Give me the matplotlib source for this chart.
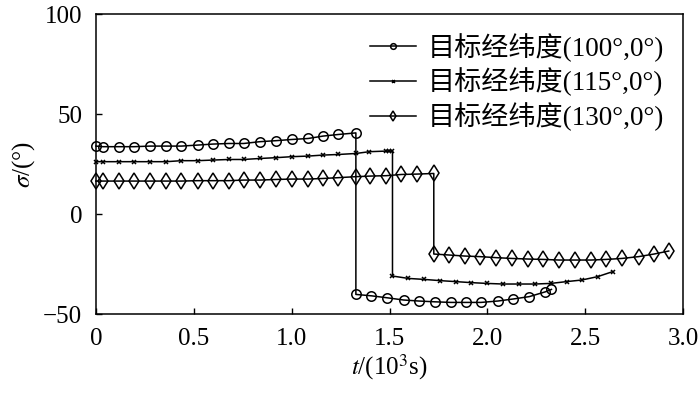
# plot sigma vs time for three target lon/lat
import matplotlib
matplotlib.use('Agg')
import matplotlib.pyplot as plt
import numpy as np

plt.rcParams['font.family'] = ['Liberation Serif', 'Noto Sans CJK SC']
plt.rcParams['mathtext.fontset'] = 'stix'

labels = ['目标经纬度(100°,0°)', '目标经纬度(115°,0°)', '目标经纬度(130°,0°)']

# shared time grid before the jump (10^3 s)
t_pre = [0, 0.036, 0.118, 0.195, 0.277, 0.36, 0.437, 0.519, 0.596, 0.678,
         0.755, 0.837, 0.919, 1.0, 1.084, 1.16, 1.238, 1.328]

# 100 deg
t_100 = t_pre + [1.328, 1.407, 1.489, 1.572, 1.649, 1.731, 1.813, 1.89, 1.967,
                 2.054, 2.131, 2.214, 2.296, 2.327]
s_100 = [34, 33.7, 33.7, 33.7, 34, 34, 34, 34.5, 35, 35.3, 35.3, 36.2, 36.7,
         37.3, 37.8, 39, 39.8, 40.6,
         -40.2, -40.9, -41.9, -43, -43.5, -43.9, -44.2, -44.2, -44.2, -43.5,
         -42.5, -41.3, -38.9, -37.7]

# 115 deg
t_115 = t_pre + [1.397, 1.484, 1.495, 1.515,
                 1.515, 1.596, 1.678, 1.757, 1.839, 1.916, 1.998, 2.079, 2.161,
                 2.243, 2.323, 2.404, 2.482, 2.563, 2.64]
s_115 = [26.2, 26.2, 26.2, 26.2, 26.2, 26.2, 26.7, 26.7, 27, 27.3, 27.3, 27.8,
         28.2, 28.7, 29, 29.5, 29.8, 30.3, 31.2, 31.5, 31.5, 31.5,
         -31, -32.2, -32.7, -33.3, -33.8, -34.3, -34.7, -35, -35, -35, -34.7,
         -33.8, -33, -31.3, -28.8]

# 130 deg
t_130 = t_pre + [1.402, 1.484, 1.561, 1.642, 1.726,
                 1.726, 1.806, 1.883, 1.963, 2.044, 2.123, 2.207, 2.286, 2.366,
                 2.448, 2.528, 2.606, 2.688, 2.772, 2.851, 2.926]
s_130 = [16.5, 16.5, 16.5, 16.5, 16.5, 16.5, 16.5, 16.7, 16.7, 16.7, 17, 17,
         17.3, 17.5, 17.5, 17.8, 18.2, 18.7, 19, 19.2, 19.8, 20, 20.3,
         -20, -20.5, -21, -21.3, -21.8, -22.2, -22.5, -22.7, -23, -23, -23,
         -22.7, -22.2, -21.3, -20, -18.5]

fig = plt.figure(figsize=(7, 3.93), dpi=100)
ax = fig.add_axes([0.137, 0.201, 0.839, 0.763])

ax.plot(t_100, s_100, color='k', lw=1.1, marker='o', ms=6.8, mfc='none',
        mew=1.1, clip_on=False, label=labels[0])
ax.plot(t_115, s_115, color='k', lw=1.1, marker='x', ms=3.5, mew=1.1,
        clip_on=False, label=labels[1])
ax.plot(t_130, s_130, color='k', lw=1.1, marker='d', ms=7.8, mfc='none',
        mew=1.1, clip_on=False, label=labels[2])

ax.set_xlim(0, 3.0)
ax.set_ylim(-50, 100)
ax.set_xticks(np.arange(0, 3.01, 0.5))
ax.set_yticks([-50, 0, 50, 100])
ax.set_xticklabels(['0', '0.5', '1.0', '1.5', '2.0', '2.5', '3.0'])
ax.set_yticklabels(['\u221250', '0', '50', '100'])
ax.tick_params(direction='in', length=4, width=1, labelsize=18, pad=10)
for sp in ax.spines.values():
    sp.set_linewidth(1.1)

ax.set_xlabel(r'$t$/(10$^3$s)', fontsize=18, labelpad=2)
ax.set_ylabel(r'$\sigma$/(°)', fontsize=18, labelpad=4)

ax.legend(loc='upper right', frameon=False, fontsize=19.5, handlelength=1.7,
          markerscale=0.6, labelspacing=0.22, handletextpad=0.45,
          borderaxespad=0.3, bbox_to_anchor=(1.0, 1.0))

plt.savefig('out.png', dpi=100)
